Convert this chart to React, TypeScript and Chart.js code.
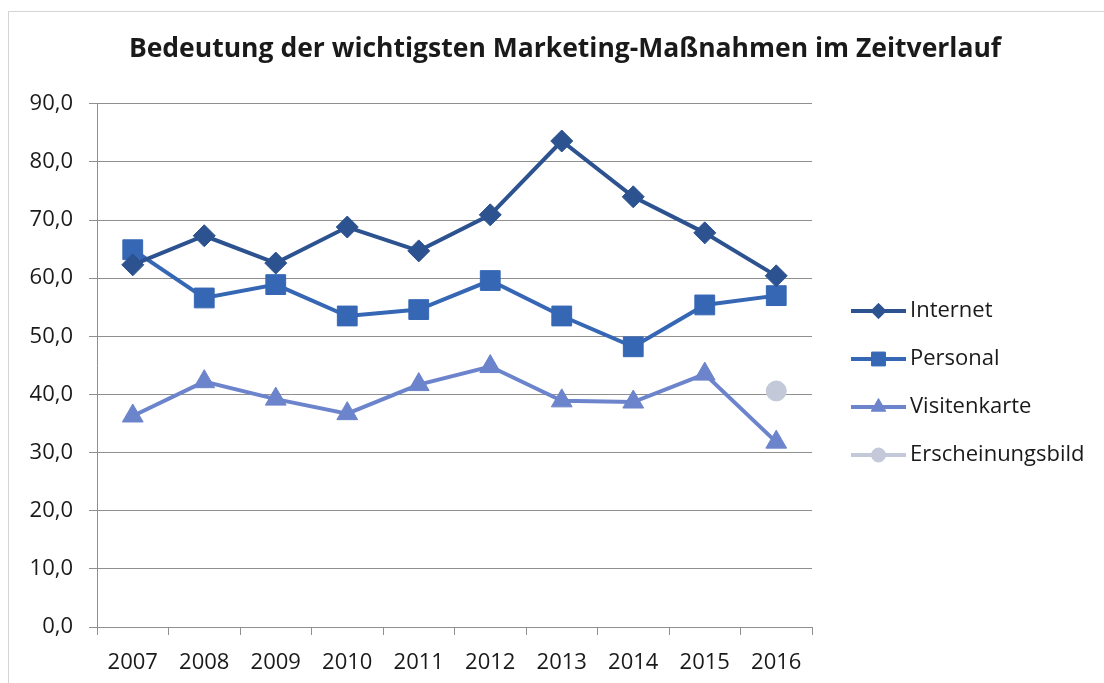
import React, { useEffect, useRef } from 'react';
import { Chart, registerables } from 'chart.js';
import { drawPoint } from 'chart.js/helpers';

Chart.register(...registerables);

const categories = ['2007', '2008', '2009', '2010', '2011', '2012', '2013', '2014', '2015', '2016'];
const internet = [62.3, 67.3, 62.6, 68.8, 64.7, 70.9, 83.6, 74.0, 67.8, 60.4];
const personal = [64.9, 56.6, 58.9, 53.5, 54.6, 59.6, 53.5, 48.2, 55.4, 57.0];
const visitenkarte = [36.3, 42.2, 39.2, 36.7, 41.7, 44.8, 38.9, 38.7, 43.5, 31.8];
const erscheinungsbild = [null, null, null, null, null, null, null, null, null, 40.6];
const seriesNames = ['Internet', 'Personal', 'Visitenkarte', 'Erscheinungsbild'];
const yMin = 0;
const yMax = 90;
const yStep = 10;
const titleText = 'Bedeutung der wichtigsten Marketing-Maßnahmen im Zeitverlauf';

const FONT = "'Open Sans', sans-serif";
const TEXT = '#1a1a1a';
const GRID = '#8f8f8f';

const framePlugin = {
  id: 'frame',
  beforeDraw(chart: any) {
    const ctx = chart.ctx;
    ctx.save();
    ctx.fillStyle = '#ffffff';
    ctx.fillRect(0, 0, chart.width, chart.height);
    ctx.strokeStyle = '#d4d4d4';
    ctx.lineWidth = 1;
    ctx.strokeRect(8.5, 11.5, chart.width + 20, chart.height + 20);
    ctx.restore();
  },
};

const legendPlugin = {
  id: 'customLegend',
  afterDraw(chart: any) {
    const ctx = chart.ctx;
    const area = chart.chartArea;
    const x0 = area.right + 39;
    const lineLen = 55;
    const startY = 311;
    const gap = 48;
    ctx.save();
    chart.data.datasets.forEach((ds: any, i: number) => {
      const y = startY + i * gap;
      ctx.strokeStyle = ds.borderColor;
      ctx.lineWidth = 4;
      ctx.beginPath();
      ctx.moveTo(x0, y);
      ctx.lineTo(x0 + lineLen, y);
      ctx.stroke();
      ctx.fillStyle = ds.pointBackgroundColor;
      ctx.strokeStyle = ds.pointBackgroundColor;
      ctx.lineWidth = 1;
      drawPoint(ctx, { pointStyle: ds.pointStyle, radius: ds.pointRadius * 0.7, rotation: 0, borderWidth: 1 }, x0 + lineLen / 2, y);
      ctx.fillStyle = TEXT;
      ctx.font = `22px ${FONT}`;
      ctx.textBaseline = 'middle';
      ctx.textAlign = 'left';
      ctx.fillText(ds.label, x0 + lineLen + 4, y);
    });
    ctx.restore();
  },
};

export default function App() {
  const ref = useRef<HTMLCanvasElement | null>(null);
  useEffect(() => {
    if (!ref.current) return;
    const mk = (label: string, data: any[], color: string, style: string, r: number) => ({
      label,
      data,
      borderColor: color,
      backgroundColor: color,
      pointBackgroundColor: color,
      pointBorderColor: color,
      pointBorderWidth: 1,
      pointStyle: style,
      pointRadius: r,
      borderWidth: 4,
      tension: 0,
    });
    const chart = new Chart(ref.current, {
      type: 'line',
      data: {
        labels: categories,
        datasets: [
          mk(seriesNames[0], internet, '#2c5290', 'rectRot', 11),
          mk(seriesNames[1], personal, '#3667b5', 'rect', 14),
          mk(seriesNames[2], visitenkarte, '#6c84cb', 'triangle', 12),
          mk(seriesNames[3], erscheinungsbild, '#c3c9d8', 'circle', 10),
        ] as any,
      },
      options: {
        animation: false,
        responsive: true,
        maintainAspectRatio: false,
        layout: { padding: { left: 26, right: 0, top: 0, bottom: 0 } },
        plugins: {
          legend: { display: false },
          tooltip: { enabled: false },
          title: {
            display: true,
            text: titleText,
            color: TEXT,
            font: { family: FONT, size: 26.5, weight: 'bold', lineHeight: 1.2 },
            padding: { top: 34, bottom: 38 },
          },
        },
        scales: {
          x: {
            type: 'category',
            offset: true,
            grid: { display: true, drawOnChartArea: false, drawTicks: true, tickLength: 8, offset: true, color: GRID },
            border: { display: true, color: GRID, width: 1 },
            ticks: { color: TEXT, font: { family: FONT, size: 22 }, padding: 15, maxRotation: 0, autoSkip: false },
            afterFit(scale: any) { scale.height = 56; },
          },
          y: {
            min: yMin,
            max: yMax,
            grid: { color: GRID, tickLength: 8, drawTicks: true },
            border: { display: true, color: GRID, width: 1 },
            ticks: {
              stepSize: yStep,
              color: TEXT,
              font: { family: FONT, size: 22 },
              padding: 16,
              callback: (v: any) => Number(v).toFixed(1).replace('.', ','),
            },
            afterFit(scale: any) { scale.width = 71; },
          },
          yRight: {
            position: 'right',
            display: true,
            grid: { display: false },
            border: { display: false },
            ticks: { display: false },
            afterFit(scale: any) { scale.width = 1104 - 812; },
          },
        },
      } as any,
      plugins: [framePlugin, legendPlugin],
    });
    return () => chart.destroy();
  }, []);
  return (
    <div style={{ position: 'fixed', left: 0, top: 0, width: 1104, height: 683, background: '#fff' }}>
      <canvas ref={ref} />
    </div>
  );
}
